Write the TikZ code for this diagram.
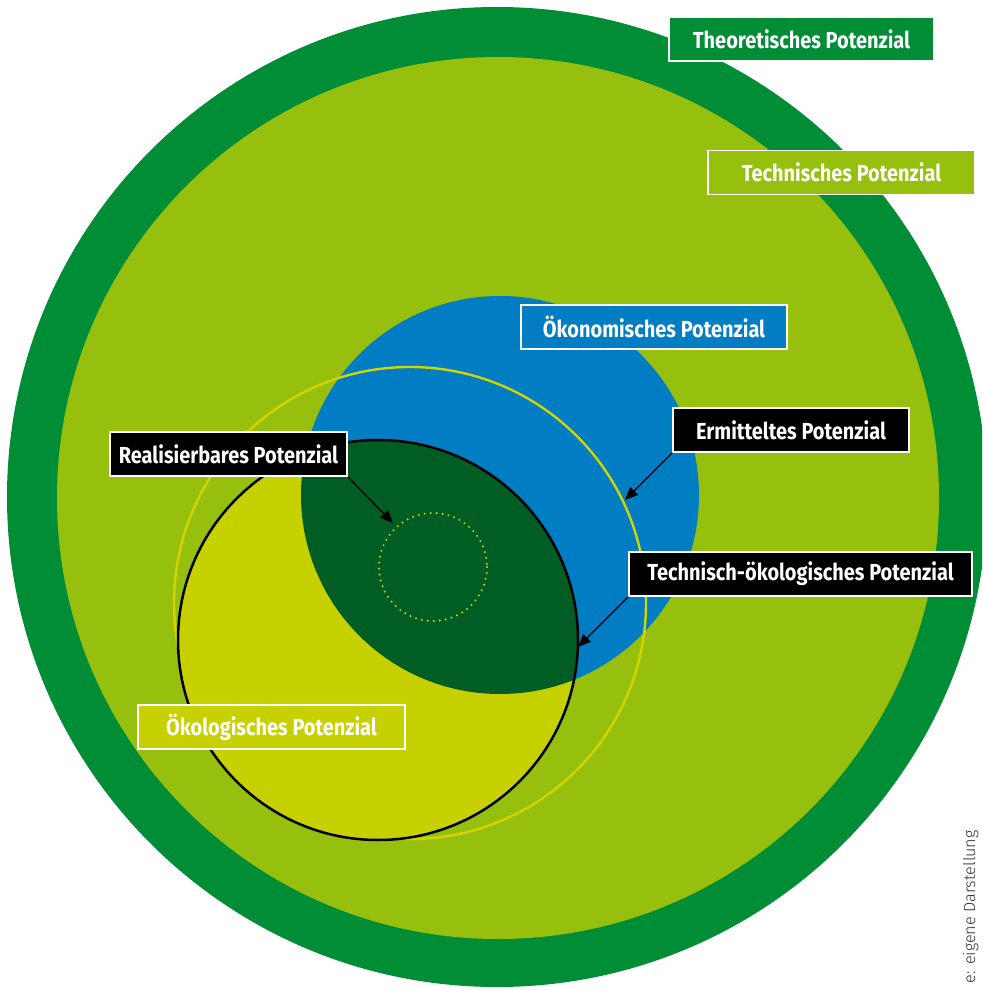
\documentclass[tikz,border=0pt]{standalone}
\usepackage{fontspec}
\usetikzlibrary{arrows.meta}
\newfontfamily\boxfont{Fira Sans}[FakeStretch=0.86]
\definecolor{ringgreen}{RGB}{0,141,54}
\definecolor{techgreen}{RGB}{151,191,13}
\definecolor{econblue}{RGB}{0,125,195}
\definecolor{ecoyellow}{RGB}{200,209,0}
\definecolor{realgreen}{RGB}{0,94,37}
\definecolor{lineyellow}{RGB}{212,212,0}
\tikzset{
	potbox/.style={draw=white, line width=0.75pt, text=white, inner sep=0pt,
		minimum height=22pt, font=\boxfont\bfseries\fontsize{11.6}{13}\selectfont},
	potarrow/.style={-{Triangle[length=6.5pt,width=5.5pt]}, line width=0.65pt}
}
\begin{document}
\begin{tikzpicture}[x=0.5pt, y=-0.5pt]
			\useasboundingbox (0,0) rectangle (982,990);
			\clip (0,0) rectangle (982,990);
			%circles
			\fill[ringgreen] (497,497) circle[radius=490];
			\fill[techgreen] (498,498) circle[radius=441];
			\fill[econblue] (500,495) circle[radius=199];
			\draw[lineyellow, line width=1.2pt] (410,603) circle[radius=236];
			\fill[ecoyellow] (378,640) circle[radius=200];
			\begin{scope}
				\clip (500,495) circle[radius=199];
				\fill[realgreen] (378,640) circle[radius=200];
			\end{scope}
			\draw[black, line width=1.25pt] (378,640) circle[radius=200];
			\draw[lineyellow, line width=1.1pt, line cap=round, dash pattern=on 0pt off 3pt] (433,567) circle[radius=54];
			
			%labels
			\node[potbox, fill=ringgreen, minimum width=132.5pt] (theo) at (801.5,39) {Theoretisches Potenzial};
			\node[potbox, fill=techgreen, minimum width=133.5pt] (tech) at (841.5,172.5) {Technisches Potenzial};
			\node[potbox, fill=econblue, minimum width=133pt] (econ) at (654,327) {Ökonomisches Potenzial};
			\node[potbox, fill=black, minimum width=118pt] (ermit) at (791,430) {Ermitteltes Potenzial};
			\node[potbox, fill=black, minimum width=118.5pt] (real) at (228.5,454) {Realisierbares Potenzial};
			\node[potbox, fill=black, minimum width=171.5pt] (techeco) at (800.5,574) {Technisch-ökologisches Potenzial};
			\node[potbox, fill=ecoyellow, minimum width=133.5pt] (eco) at (271.5,727) {Ökologisches Potenzial};
			
			%arrows
			\coordinate (realtip) at (393,523);
			\coordinate (ermittip) at (625,500);
			\coordinate (techecotip) at (578,647);
			\draw[potarrow] (real.south east) -- (realtip);
			\draw[potarrow] (ermit.south west) -- (ermittip);
			\draw[potarrow] (techeco.south west) -- (techecotip);
			
			%source
			\node[rotate=90, anchor=base east, inner sep=0pt, text=black!80, font=\fontspec{Fira Sans Light}\fontsize{8.1}{10}\selectfont] (source) at (975,830) {e: eigene Darstellung};
		\end{tikzpicture}
\end{document}
